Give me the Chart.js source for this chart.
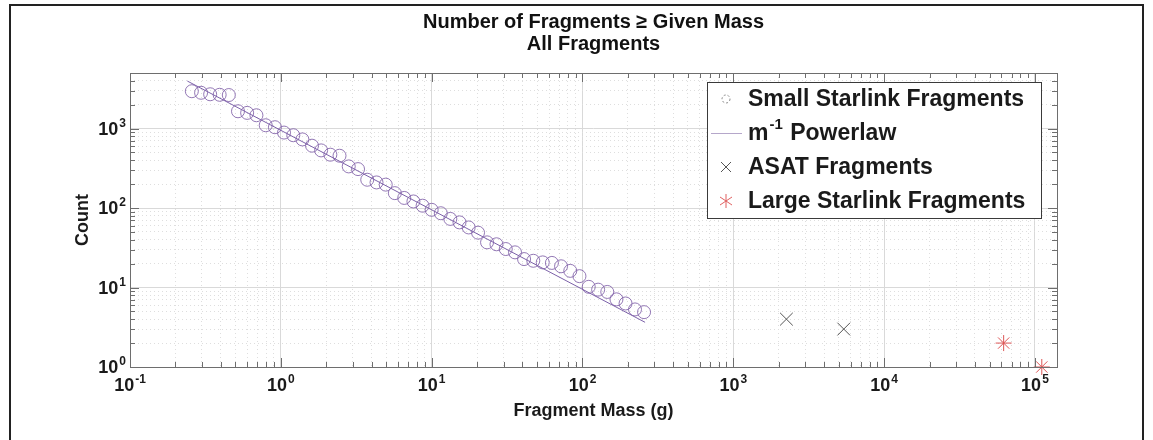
<!DOCTYPE html>
<html>
<head>
<meta charset="utf-8">
<script src="https://cdn.jsdelivr.net/npm/chart.js@4.4.1/dist/chart.umd.min.js"></script>
<style>
    html, body { margin: 0; padding: 0; background: #fff; }
    #wrap { position: relative; width: 1153px; height: 440px; overflow: hidden; }
    #frame { position: absolute; left: 9px; top: 4px; width: 1131px; height: 440px; border: 2px solid #222; pointer-events: none; }
</style>
</head>
<body>
<div id="wrap">
    <canvas id="fragChart" width="1153" height="440"></canvas>
    <div id="frame"></div>
</div>
<script>
// small starlink fragments: mass (g) and count of fragments >= mass
var smallMass = [0.257, 0.296, 0.340, 0.393, 0.452, 0.520, 0.598, 0.689, 0.794, 0.914,
                 1.05, 1.21, 1.39, 1.61, 1.85, 2.13, 2.45, 2.82, 3.25, 3.74,
                 4.31, 4.96, 5.70, 6.58, 7.57, 8.71, 10.0, 11.5, 13.3, 15.3,
                 17.6, 20.3, 23.3, 26.9, 31.0, 35.7, 41.0, 47.2, 54.5, 62.7,
                 72.1, 83.0, 95.5, 110, 127, 146, 168, 193, 223, 256];
var smallCount = [2950, 2820, 2700, 2660, 2640, 1650, 1575, 1470, 1100, 1040,
                  890, 824, 730, 609, 531, 469, 455, 334, 309, 227,
                  210, 197, 154, 134, 121, 107, 95, 86, 73, 66,
                  57, 49, 37, 35, 30.5, 27.7, 22.8, 21.7, 20.7, 20.4,
                  18.5, 16.2, 13.9, 10.2, 9.4, 8.8, 7.1, 6.3, 5.3, 4.9];

// m^-1 powerlaw end points
var powerMass = [0.24, 260];
var powerCount = [3960, 3.65];

var asatMass = [2250, 5400];
var asatCount = [4, 3];

var largeMass = [62000, 111000];
var largeCount = [2, 1];

// axis decades (labels are 10^exp)
var xExps = [-1, 0, 1, 2, 3, 4, 5];
var yExps = [0, 1, 2, 3];
var xMin = 0.1, xMax = 1.4e5;
var yMin = 1, yMax = 5000;

var legendNames = ['Small Starlink Fragments', 'Powerlaw', 'ASAT Fragments', 'Large Starlink Fragments'];

var FONT = '"Liberation Sans", Arial, Helvetica, sans-serif';
var purple = 'rgba(128,96,168,0.85)';

function toPoints(xs, ys) {
    return xs.map(function(x, i) { return {x: x, y: ys[i]}; });
}

// 1..9 x 10^e ticks, major on the decades
function logTicks(exps, max) {
    var t = [];
    exps.forEach(function(e) {
        for (var k = 1; k <= 9; k++) {
            var v = k * Math.pow(10, e);
            if (v <= max) t.push({value: v, major: k === 1});
        }
    });
    return t;
}

function gridColor(ctx) {
    return ctx.tick && ctx.tick.major ? '#d9d9d9' : '#dedede';
}
function gridDash(ctx) {
    return ctx.tick && ctx.tick.major ? [] : [1, 3];
}

function drawPow(ctx, exp, x, y, align) {
    var big = 'bold 18px ' + FONT, small = 'bold 12px ' + FONT;
    var sup = String(exp);
    ctx.font = big;
    var wb = ctx.measureText('10').width;
    ctx.font = small;
    var ws = ctx.measureText(sup).width;
    var left = align === 'right' ? x - wb - ws - 1 : x - (wb + ws + 1) / 2;
    ctx.textAlign = 'left';
    ctx.textBaseline = 'alphabetic';
    ctx.font = big;
    ctx.fillText('10', left, y);
    ctx.font = small;
    ctx.fillText(sup, left + wb + 1, y - 8);
}

var axesPlugin = {
    id: 'matlabAxes',
    afterDatasetsDraw: function(chart) {
        var ctx = chart.ctx, a = chart.chartArea;
        var xs = chart.scales.x, ys = chart.scales.y;
        ctx.save();
        ctx.strokeStyle = '#6e6e6e';
        ctx.lineWidth = 1;
        ctx.beginPath();
        xs.ticks.forEach(function(t) {
            var px = Math.round(xs.getPixelForValue(t.value)) + 0.5;
            var len = t.major ? 9 : 5;
            ctx.moveTo(px, a.bottom); ctx.lineTo(px, a.bottom - len);
            ctx.moveTo(px, a.top); ctx.lineTo(px, a.top + len);
        });
        ys.ticks.forEach(function(t) {
            var py = Math.round(ys.getPixelForValue(t.value)) + 0.5;
            var len = t.major ? 9 : 5;
            ctx.moveTo(a.left, py); ctx.lineTo(a.left + len, py);
            ctx.moveTo(a.right, py); ctx.lineTo(a.right - len, py);
        });
        ctx.stroke();
        ctx.strokeRect(Math.round(a.left) + 0.5, Math.round(a.top) + 0.5,
                       Math.round(a.right - a.left), Math.round(a.bottom - a.top));
        ctx.restore();
    },
    afterDraw: function(chart) {
        var ctx = chart.ctx, a = chart.chartArea;
        var xs = chart.scales.x, ys = chart.scales.y;
        ctx.save();
        ctx.fillStyle = '#1a1a1a';
        xExps.forEach(function(e) {
            drawPow(ctx, e, xs.getPixelForValue(Math.pow(10, e)), a.bottom + 24, 'center');
        });
        yExps.forEach(function(e) {
            drawPow(ctx, e, a.left - 4, ys.getPixelForValue(Math.pow(10, e)) + 6, 'right');
        });

        // legend box
        var L = 707, T = 82, W = 334, H = 136, step = 34;
        ctx.fillStyle = '#fff';
        ctx.fillRect(L, T, W, H);
        ctx.strokeStyle = '#3a3a3a';
        ctx.lineWidth = 1;
        ctx.strokeRect(L + 0.5, T + 0.5, W, H);

        var mx = 726, tx = 748;
        var cy = function(i) { return T + 17 + step * i; };

        // circle marker
        ctx.strokeStyle = '#8a8a8a';
        ctx.setLineDash([2, 2]);
        ctx.beginPath();
        ctx.arc(mx, cy(0), 4, 0, Math.PI * 2);
        ctx.stroke();
        ctx.setLineDash([]);
        // line marker
        ctx.strokeStyle = 'rgba(150,130,180,0.7)';
        ctx.beginPath();
        ctx.moveTo(711, cy(1) + 0.5); ctx.lineTo(742, cy(1) + 0.5);
        ctx.stroke();
        // x marker
        ctx.strokeStyle = '#555';
        ctx.beginPath();
        ctx.moveTo(mx - 5, cy(2) - 5); ctx.lineTo(mx + 5, cy(2) + 5);
        ctx.moveTo(mx - 5, cy(2) + 5); ctx.lineTo(mx + 5, cy(2) - 5);
        ctx.stroke();
        // asterisk marker
        ctx.strokeStyle = '#e06060';
        ctx.beginPath();
        ctx.moveTo(mx, cy(3) - 7); ctx.lineTo(mx, cy(3) + 7);
        ctx.moveTo(mx - 6, cy(3) - 4); ctx.lineTo(mx + 6, cy(3) + 4);
        ctx.moveTo(mx - 6, cy(3) + 4); ctx.lineTo(mx + 6, cy(3) - 4);
        ctx.stroke();

        ctx.fillStyle = '#1a1a1a';
        ctx.textAlign = 'left';
        ctx.textBaseline = 'middle';
        var lf = 'bold 23px ' + FONT;
        ctx.font = lf;
        ctx.fillText(legendNames[0], tx, cy(0) + 1);
        ctx.fillText(legendNames[2], tx, cy(2) + 1);
        ctx.fillText(legendNames[3], tx, cy(3) + 1);
        // m^-1 Powerlaw
        var wm = ctx.measureText('m').width;
        ctx.fillText('m', tx, cy(1) + 1);
        ctx.font = 'bold 15px ' + FONT;
        ctx.fillText('-1', tx + wm + 1, cy(1) - 8);
        var ws = ctx.measureText('-1').width;
        ctx.font = lf;
        ctx.fillText(' ' + legendNames[1], tx + wm + ws + 2, cy(1) + 1);
        ctx.restore();
    }
};

var canvas = document.getElementById('fragChart').getContext('2d');

const fragChart = new Chart(canvas, {
    type: 'scatter',
    data: {
        datasets: [{
            label: legendNames[0],
            data: toPoints(smallMass, smallCount),
            pointStyle: 'circle',
            pointRadius: 6.5,
            pointBorderWidth: 1,
            borderColor: purple,
            backgroundColor: 'rgba(0,0,0,0)',
            showLine: false
        }, {
            label: legendNames[1],
            data: toPoints(powerMass, powerCount),
            showLine: true,
            pointRadius: 0,
            borderWidth: 1,
            borderColor: 'rgba(110,80,160,0.9)',
            backgroundColor: 'rgba(0,0,0,0)'
        }, {
            label: legendNames[2],
            data: toPoints(asatMass, asatCount),
            pointStyle: 'crossRot',
            pointRadius: 9,
            pointBorderWidth: 1,
            borderColor: '#555',
            backgroundColor: '#555'
        }, {
            label: legendNames[3],
            data: toPoints(largeMass, largeCount),
            pointStyle: 'star',
            pointRadius: 8,
            pointBorderWidth: 1,
            borderColor: '#dd5555',
            backgroundColor: '#dd5555',
            clip: false
        }]
    },
    options: {
        responsive: false,
        animation: false,
        events: [],
        layout: {
            padding: {left: 60, right: 96, top: 11, bottom: 8}
        },
        plugins: {
            legend: {display: false},
            tooltip: {enabled: false},
            title: {
                display: true,
                fullSize: false,
                text: ['Number of Fragments \u2265 Given Mass', 'All Fragments'],
                color: '#111',
                font: {family: FONT, size: 20, weight: 'bold', lineHeight: 1.1},
                padding: {top: 0, bottom: 18}
            }
        },
        scales: {
            x: {
                type: 'logarithmic',
                min: xMin,
                max: xMax,
                afterBuildTicks: function(scale) { scale.ticks = logTicks(xExps, xMax); },
                afterFit: function(scale) { scale.height = 65; },
                ticks: {display: false, autoSkip: false},
                grid: {color: gridColor, lineWidth: 1, drawTicks: false},
                border: {display: false, dash: gridDash},
                title: {
                    display: true,
                    text: 'Fragment Mass (g)',
                    color: '#1a1a1a',
                    font: {family: FONT, size: 18, weight: 'bold'},
                    padding: {top: 0, bottom: 10}
                }
            },
            y: {
                type: 'logarithmic',
                min: yMin,
                max: yMax,
                afterBuildTicks: function(scale) { scale.ticks = logTicks(yExps, yMax); },
                afterFit: function(scale) { scale.width = 70; },
                ticks: {display: false, autoSkip: false},
                grid: {color: gridColor, lineWidth: 1, drawTicks: false},
                border: {display: false, dash: gridDash},
                title: {
                    display: true,
                    text: 'Count',
                    color: '#1a1a1a',
                    font: {family: FONT, size: 18, weight: 'bold'},
                    padding: {top: 12, bottom: 0}
                }
            }
        }
    },
    plugins: [axesPlugin]
});
</script>
</body>
</html>
